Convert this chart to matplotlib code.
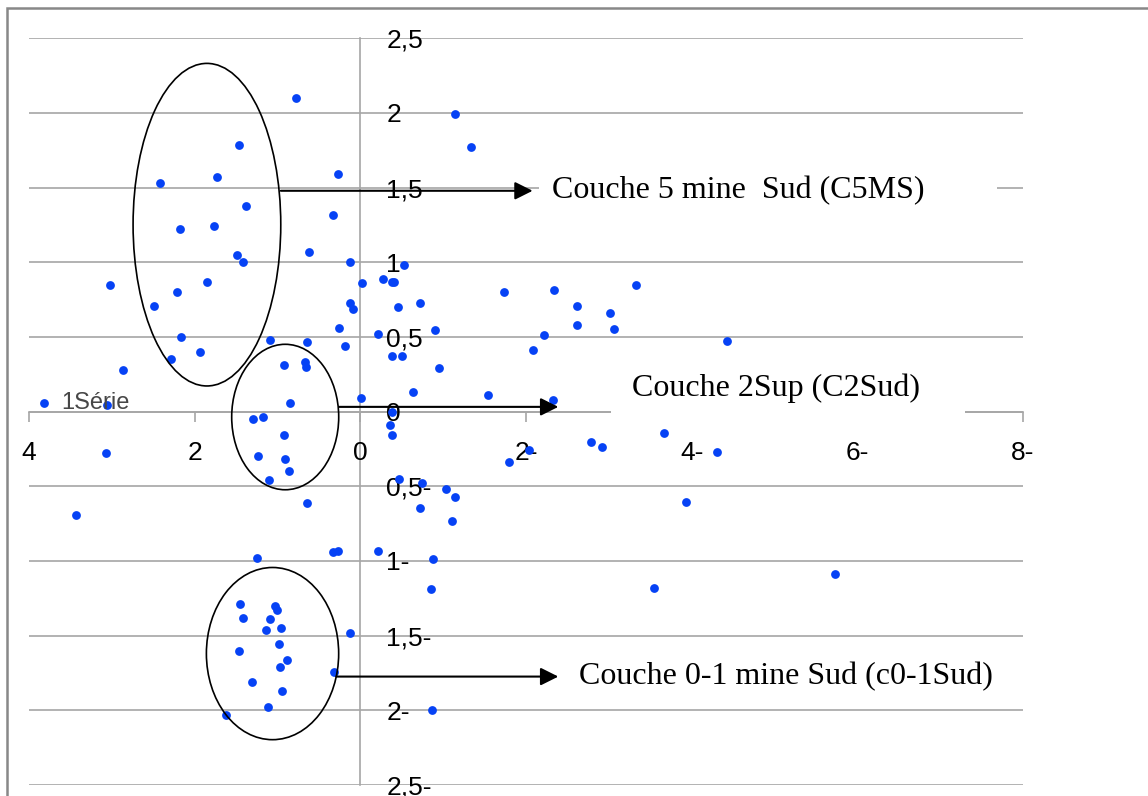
import matplotlib
matplotlib.use("Agg")
import matplotlib.pyplot as plt
from matplotlib.patches import Ellipse, Rectangle
from matplotlib.ticker import FuncFormatter

# scatter values (x axis runs from 4 on the left to -8 on the right)
x_vals = [0.78, -1.14, -1.34, 1.46, 1.73, 2.42, 0.27, 1.38, 0.33, 2.18,
          1.77, 1.49, 1.42, 0.62, 0.12, -0.53, 3.02, 1.85, 2.21, -0.02,
          -0.27, -0.38, -0.41, -1.73, -2.34, 2.49, 0.13, 0.09, -0.45, -0.72,
          0.26, -0.21, -0.90, 2.16, 1.09, 0.64, 0.19, -2.22, -2.09, 1.93,
          2.29, 2.87, -0.38, -0.50, 0.92, 0.67, 0.65, -0.95, -0.63, -1.54,
          0.85, -0.01, -2.32, 3.06,
          -3.33, -2.61, -2.61, -3.01, -3.06, -4.43,
          1.30, 1.17, -0.38, -0.36, -0.385, 0.92, 1.24, 0.91, 0.86, 1.10,
          3.07, -2.04, -1.80, -0.47, -0.74, -1.03, -1.14, -0.72, -1.11, 3.43,
          0.64, 1.25, 0.33, 0.27, -0.21, -0.88, -0.85, 1.45, 1.035, 1.01,
          1.42, 1.09, 1.14, 0.955, 0.12, 1.46, 0.98, 0.89, 0.97, 0.32,
          1.31, 0.94, 1.115, 1.62, -0.86,
          -2.79, -2.92, -3.67, -4.30, -3.93, -3.54, -5.73]
y_vals = [2.10, 1.99, 1.77, 1.785, 1.57, 1.53, 1.59, 1.38, 1.32, 1.22,
          1.24, 1.05, 1.00, 1.07, 1.00, 0.98, 0.85, 0.87, 0.80, 0.86,
          0.89, 0.87, 0.87, 0.80, 0.815, 0.71, 0.73, 0.69, 0.70, 0.73,
          0.56, 0.52, 0.55, 0.50, 0.48, 0.465, 0.44, 0.51, 0.41, 0.40,
          0.35, 0.28, 0.37, 0.37, 0.31, 0.33, 0.30, 0.29, 0.13, 0.11,
          0.06, 0.09, 0.08, 0.045,
          0.85, 0.71, 0.58, 0.66, 0.556, 0.47,
          -0.047, -0.036, 0.0, -0.087, -0.154, -0.154, -0.30, -0.32, -0.395, -0.46,
          -0.277, -0.26, -0.34, -0.45, -0.48, -0.52, -0.57, -0.645, -0.73, -0.695,
          -0.61, -0.98, -0.94, -0.93, -0.93, -0.99, -1.19, -1.29, -1.30, -1.33,
          -1.385, -1.39, -1.465, -1.45, -1.48, -1.60, -1.555, -1.66, -1.71, -1.74,
          -1.81, -1.87, -1.98, -2.03, -2.0,
          -0.20, -0.24, -0.14, -0.27, -0.605, -1.18, -1.09]

series_name = "1Série"
x_ticks = [4, 2, 0, -2, -4, -6, -8]
y_ticks = [2.5, 2, 1.5, 1, 0.5, 0, -0.5, -1, -1.5, -2, -2.5]

# groups circled on the chart: (centre x, centre y, width, height)
groups = [(1.852, 1.252, 1.783, 2.16),
          (0.907, -0.036, 1.292, 0.974),
          (1.06, -1.62, 1.597, 1.153)]
group_labels = ["Couche 5 mine  Sud (C5MS)", "Couche 2Sup (C2Sud)",
                "Couche 0-1 mine Sud (c0-1Sud)"]
arrow_tail = [(0.96, 1.479), (0.255, 0.032), (0.29, -1.774)]
arrow_tip = [(-2.08, 1.479), (-2.39, 0.032), (-2.39, -1.774)]
label_pos = [(-2.318, 1.478), (-3.279, 0.159), (-2.638, -1.777)]

blue = "#0642f5"
grid_gray = "#a6a6a6"


def rtl_fmt(v, pos):
    s = f"{abs(v):g}".replace(".", ",")
    return s + "-" if v < 0 else s


fig = plt.figure(figsize=(11.48, 7.96), dpi=100)
ax = fig.add_axes([29 / 1148, 11 / 796, 994 / 1148, 746.7 / 796])
ax.set_xlim(4, -8)
ax.set_ylim(-2.5, 2.5)
ax.set_axisbelow(True)

for side in ["top", "right"]:
    ax.spines[side].set_visible(False)
for side in ["left", "bottom"]:
    ax.spines[side].set_position(("data", 0))
    ax.spines[side].set_color(grid_gray)
    ax.spines[side].set_linewidth(1.2)
    ax.spines[side].set_zorder(0.5)

ax.set_xticks(x_ticks)
ax.set_yticks(y_ticks)
ax.xaxis.set_major_formatter(FuncFormatter(rtl_fmt))
ax.yaxis.set_major_formatter(FuncFormatter(rtl_fmt))
ax.yaxis.grid(True, color=grid_gray, linewidth=1.2)
ax.tick_params(axis="x", direction="out", length=7, width=1.2, color=grid_gray,
               pad=14, labelsize=19)
ax.tick_params(axis="y", length=0, pad=-18.7, labelsize=19)
for lbl in ax.get_xticklabels() + ax.get_yticklabels():
    lbl.set_fontfamily("Liberation Sans")
for lbl in ax.get_yticklabels():
    lbl.set_horizontalalignment("left")

# white text boxes hiding the grid behind the labels
ax.add_patch(Rectangle((-2.161, 1.271), -5.53, 0.415, facecolor="white",
                       edgecolor="none", zorder=1))
ax.add_patch(Rectangle((-3.03, -0.089), -4.274, 0.422, facecolor="white",
                       edgecolor="none", zorder=1))

pts = ax.scatter(x_vals, y_vals, s=40, color=blue, linewidths=0, zorder=3,
                 label=series_name)

for (cx, cy, w, h) in groups:
    ax.add_patch(Ellipse((cx, cy), w, h, fill=False, edgecolor="black",
                         linewidth=1.2, zorder=4))

for tail, tip in zip(arrow_tail, arrow_tip):
    ax.annotate("", xy=tip, xytext=tail,
                arrowprops=dict(arrowstyle="-|>", color="black", lw=1.5,
                                mutation_scale=27, shrinkA=0, shrinkB=0),
                zorder=4)

for (tx, ty), txt in zip(label_pos, group_labels):
    ax.text(tx, ty, txt, ha="left", va="center", fontsize=23,
            family="Liberation Serif", color="black", zorder=5)

fig.legend(handles=[pts], labels=[series_name], loc="center left",
           bbox_to_anchor=(32 / 1148, 1 - 403 / 796), frameon=False,
           borderpad=0, borderaxespad=0, handlelength=1.0, handletextpad=0.25,
           prop={"family": "Liberation Sans", "size": 17},
           labelcolor="#474747")

# chart area border (cut off at right and bottom like the original)
fig.patches.append(Rectangle((7 / 1148, -0.2), 1.3, 0.99 + 0.2,
                             transform=fig.transFigure, fill=False,
                             edgecolor="#888888", linewidth=1.8))

fig.savefig("out.png", dpi=100)
